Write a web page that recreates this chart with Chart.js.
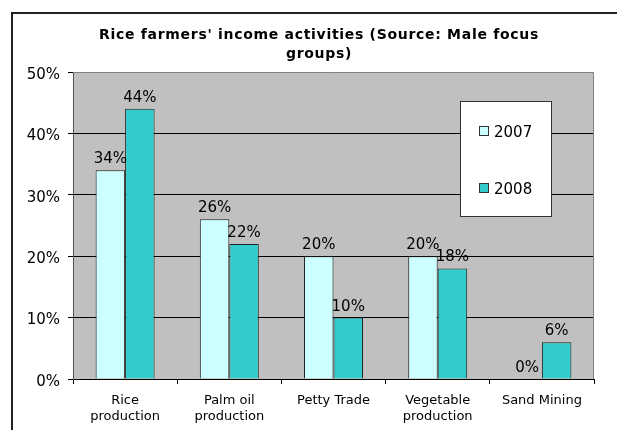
<!DOCTYPE html>
<html>
<head>
<meta charset="utf-8">
<title>Rice farmers' income activities</title>
<script src="https://cdn.jsdelivr.net/npm/chart.js@4.4.1/dist/chart.umd.min.js"></script>
<style>
  html, body { margin: 0; padding: 0; background: #ffffff; }
  #wrap { position: relative; width: 617px; height: 430px; }
</style>
</head>
<body>
<div id="wrap"><canvas id="chart" width="617" height="430"></canvas></div>
<script>
// Income activity categories and the share of farmers reporting each (percent)
const categories = [['Rice', 'production'], ['Palm oil', 'production'], 'Petty Trade', ['Vegetable', 'production'], 'Sand Mining'];
const seriesNames = ['2007', '2008'];
const values2007 = [34, 26, 20, 20, 0];
const values2008 = [44, 22, 10, 18, 6];
const yMax = 50;
const yStep = 10;
const titleLines = ["Rice farmers' income activities (Source: Male focus", 'groups)'];

const FONT = '"DejaVu Sans", Verdana, sans-serif';
const colors = ['#CCFFFF', '#33CCCC'];

// Frame, plot background and plot border
const framePlugin = {
  id: 'frame',
  beforeDraw(chart) {
    const { ctx, chartArea: a } = chart;
    ctx.save();
    ctx.fillStyle = '#C0C0C0';
    ctx.fillRect(a.left, a.top, a.right - a.left, a.bottom - a.top);
    ctx.strokeStyle = '#222';
    ctx.lineWidth = 2;
    ctx.beginPath();
    ctx.moveTo(12, 440);
    ctx.lineTo(12, 13);
    ctx.lineTo(630, 13);
    ctx.stroke();
    ctx.restore();
  },
  beforeDatasetsDraw(chart) {
    const { ctx, chartArea: a } = chart;
    ctx.save();
    ctx.strokeStyle = '#808080';
    ctx.lineWidth = 1;
    ctx.beginPath();
    ctx.moveTo(a.left, a.top + 0.5);
    ctx.lineTo(a.right - 0.5, a.top + 0.5);
    ctx.lineTo(a.right - 0.5, a.bottom);
    ctx.stroke();
    ctx.restore();
  }
};

// Title, value labels and legend box
const textPlugin = {
  id: 'texts',
  afterDatasetsDraw(chart) {
    const { ctx } = chart;
    ctx.save();
    ctx.fillStyle = '#000';
    ctx.font = '15px ' + FONT;
    ctx.textAlign = 'center';
    ctx.textBaseline = 'alphabetic';
    chart.data.datasets.forEach((ds, i) => {
      const meta = chart.getDatasetMeta(i);
      meta.data.forEach((bar, j) => {
        ctx.fillText(ds.data[j] + '%', bar.x, bar.y - 7);
      });
    });
    ctx.restore();
  },
  afterDraw(chart) {
    const { ctx } = chart;
    ctx.save();
    // title
    ctx.fillStyle = '#000';
    ctx.font = 'bold 14px ' + FONT;
    ctx.letterSpacing = '0.7px';
    ctx.textAlign = 'center';
    ctx.textBaseline = 'alphabetic';
    ctx.fillText(titleLines[0], 319, 39);
    ctx.fillText(titleLines[1], 319, 58);
    ctx.letterSpacing = '0px';
    // legend
    const lx = 460, ly = 101, lw = 91, lh = 115;
    ctx.fillStyle = '#fff';
    ctx.fillRect(lx, ly, lw, lh);
    ctx.strokeStyle = '#333';
    ctx.lineWidth = 1;
    ctx.strokeRect(lx + 0.5, ly + 0.5, lw, lh);
    ctx.font = '15px ' + FONT;
    ctx.textAlign = 'left';
    seriesNames.forEach((name, i) => {
      const my = 126 + i * 57;
      ctx.fillStyle = colors[i];
      ctx.fillRect(479, my, 10, 10);
      ctx.strokeStyle = '#333';
      ctx.strokeRect(479.5, my + 0.5, 9, 9);
      ctx.fillStyle = '#000';
      ctx.fillText(name, 494, my + 11);
    });
    ctx.restore();
  }
};

new Chart(document.getElementById('chart'), {
  type: 'bar',
  data: {
    labels: categories,
    datasets: [
      { label: seriesNames[0], data: values2007, backgroundColor: colors[0], borderColor: '#222', borderWidth: 1 },
      { label: seriesNames[1], data: values2008, backgroundColor: colors[1], borderColor: '#222', borderWidth: 1 }
    ]
  },
  options: {
    responsive: false,
    animation: false,
    layout: { padding: { top: 72, right: 23, left: 0, bottom: 0 } },
    datasets: { bar: { barPercentage: 1.0, categoryPercentage: 0.566 } },
    plugins: {
      legend: { display: false },
      title: { display: false },
      tooltip: { enabled: false }
    },
    scales: {
      x: {
        afterFit(scale) { scale.height = 51; },
        grid: {
          offset: true,
          drawOnChartArea: false,
          drawTicks: true,
          tickLength: 5,
          tickColor: '#000'
        },
        border: { color: '#000', width: 1 },
        ticks: {
          color: '#000',
          font: { family: FONT, size: 13, lineHeight: 1.27 },
          padding: 8,
          maxRotation: 0,
          autoSkip: false
        }
      },
      y: {
        min: 0,
        max: yMax,
        afterFit(scale) { scale.width = 73; },
        grid: {
          color: (c) => (c.tick && c.tick.value === yMax) ? 'rgba(0,0,0,0)' : '#000',
          tickColor: '#000',
          tickLength: 5
        },
        border: { color: '#555', width: 1 },
        ticks: {
          stepSize: yStep,
          color: '#000',
          font: { family: FONT, size: 15 },
          padding: 8,
          labelOffset: 3,
          callback: (v) => v + '%'
        }
      }
    }
  },
  plugins: [framePlugin, textPlugin]
});
</script>
</body>
</html>
